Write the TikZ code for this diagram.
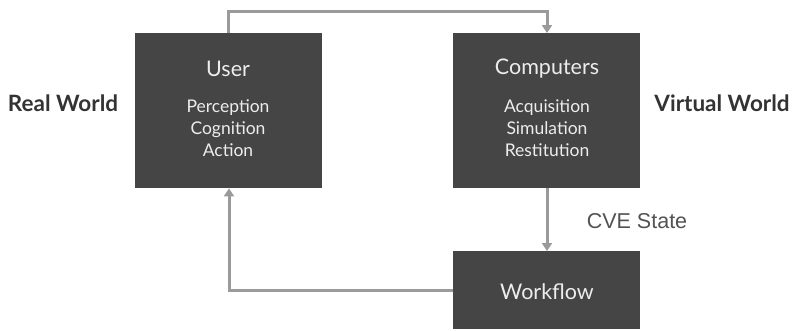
\documentclass[tikz,border=0pt]{standalone}
\usepackage{fontspec}
\setmainfont{Lato}
\newfontfamily\arialfont{Liberation Sans}
\usetikzlibrary{arrows.meta}
\definecolor{boxgray}{HTML}{454545}
\definecolor{linkgray}{HTML}{9A9A9A}
\definecolor{labelgray}{HTML}{333333}
\tikzset{
  block/.style={draw=none, fill=boxgray, minimum width=187pt, inner sep=0pt},
  title/.style={text=white!93!black, font=\fontsize{21.5}{24}\selectfont},
  item/.style={text=white!93!black, font=\fontsize{17.5}{22}\selectfont},
  side/.style={text=labelgray, font=\bfseries\fontsize{22.5}{24}\selectfont},
  link/.style={draw=linkgray, line width=3pt, -{Triangle[length=8pt,width=10pt]}},
}
\begin{document}
\begin{tikzpicture}[x=1pt,y=-1pt]
\useasboundingbox (0,0) rectangle (794,330);
% main blocks
\node[block, minimum height=155pt, anchor=north west] (user) at (135,33) {};
\node[block, minimum height=155pt, anchor=north west] (comp) at (453,33) {};
\node[block, minimum height=78pt, anchor=north west] (work) at (453,251) {};
% block texts
\node[title] (usert) at (228,69) {User};
\node[item, align=center] (usei) at (228,128) {Perception\\Cognition\\Action};
\node[title] (compt) at (547,69) {Computers};
\node[item, align=center] (compi) at (547,128) {Acquisition\\Simulation\\Restitution};
\node[title] (workt) at (547,292) {Workflow};
% side labels
\node[side] (real) at (63,103) {Real World};
\node[side] (virt) at (722,103) {Virtual World};
\node[text=labelgray!85!white, font=\arialfont\fontsize{21.5}{24}\selectfont] (cve) at (637,221) {CVE State};
% connectors
\coordinate (ta) at (228,11);
\coordinate (tb) at (547,11);
\coordinate (wl) at (229,290);
\draw[link] (user.north -| ta) -- (ta) -- (tb) -- (comp.north -| tb);
\draw[link] (comp.south -| tb) -- (work.north -| tb);
\draw[link] (work.west |- wl) -- (wl) -- (user.south -| wl);
\end{tikzpicture}
\end{document}
